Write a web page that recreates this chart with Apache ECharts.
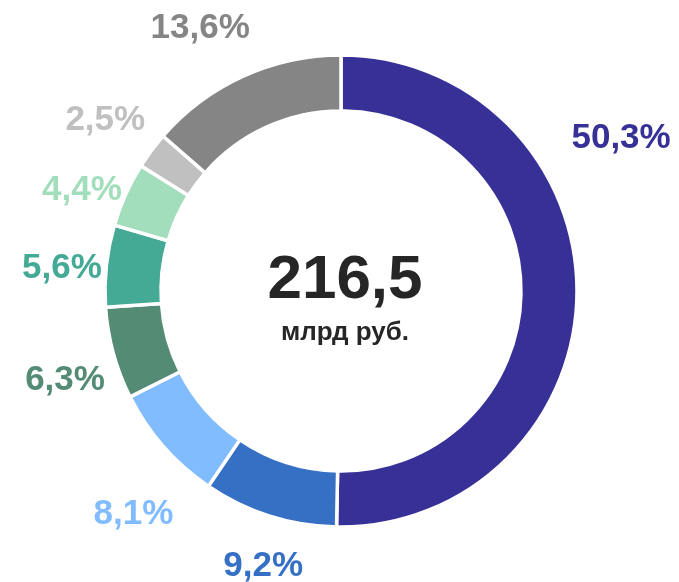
<!DOCTYPE html>
<html>
<head>
<meta charset="utf-8">
<script src="https://cdn.jsdelivr.net/npm/echarts@6/dist/echarts.min.js"></script>
<style>
  html, body { margin: 0; padding: 0; background: #fff; }
  #chart { width: 679px; height: 582px; }
</style>
</head>
<body>
<div id="chart"></div>
<script>
// shares of total, percent
var shareNames = ['s1', 's2', 's3', 's4', 's5', 's6', 's7', 's8'];
var shareValues = [50.3, 9.2, 8.1, 6.3, 5.6, 4.4, 2.5, 13.6];
var shareColors = ['#373096', '#3570C4', '#80BCFF', '#548B74', '#44A995', '#A2DDBC', '#C0C0C0', '#858585'];
var totalText = '216,5';
var unitText = 'млрд руб.';

// where each label sits: [angle in degrees, counter-clockwise from 3 o'clock; distance from centre]
var labelPolar = [[28.6, 319], [-105.8, 286], [-132.9, 305], [-162.1, 290], [175.3, 280], [158.7, 278], [144.1, 291], [118.2, 298]];
var cx = 341, cy = 291;

var pieData = shareValues.map(function (v, i) {
  return {
    name: shareNames[i],
    value: v,
    itemStyle: { color: shareColors[i] },
    label: { color: shareColors[i] }
  };
});

var myChart = echarts.init(document.getElementById('chart'));
myChart.setOption({
  animation: false,
  series: [{
    type: 'pie',
    center: [cx, cy],
    radius: [180, 236],
    startAngle: 90,
    clockwise: true,
    avoidLabelOverlap: false,
    itemStyle: { borderColor: '#fff', borderWidth: 3.5 },
    label: {
      show: true,
      position: 'outside',
      fontFamily: 'Liberation Sans, Arial, sans-serif',
      fontWeight: 'bold',
      fontSize: 35,
      formatter: function (p) { return String(p.value).replace('.', ',') + '%'; }
    },
    labelLine: { show: false },
    labelLayout: function (params) {
      var p = labelPolar[params.dataIndex];
      var a = p[0] * Math.PI / 180;
      return {
        x: cx + p[1] * Math.cos(a),
        y: cy - p[1] * Math.sin(a),
        align: 'center',
        verticalAlign: 'middle'
      };
    },
    data: pieData
  }],
  graphic: [{
    type: 'text',
    x: 345,
    y: 281,
    style: {
      text: totalText,
      fill: '#262626',
      textAlign: 'center',
      textVerticalAlign: 'middle',
      font: 'bold 62px "Liberation Sans", Arial, sans-serif'
    }
  }, {
    type: 'text',
    x: 345,
    y: 333,
    style: {
      text: unitText,
      fill: '#262626',
      textAlign: 'center',
      textVerticalAlign: 'middle',
      font: 'bold 26px "Liberation Sans", Arial, sans-serif'
    }
  }]
});
</script>
</body>
</html>
